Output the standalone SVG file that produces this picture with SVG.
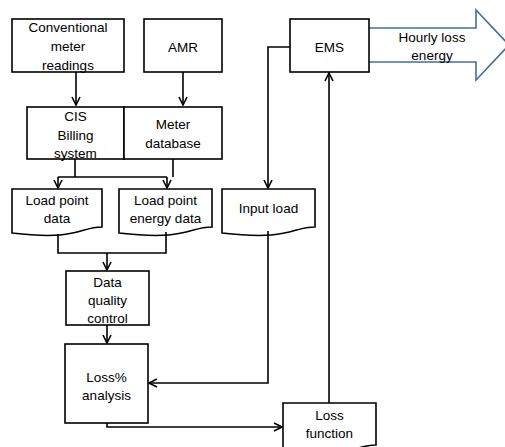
<svg xmlns="http://www.w3.org/2000/svg" width="505" height="447" viewBox="0 0 505 447">
<defs>
<style>
.box{fill:#fff;stroke:#000;stroke-width:1.6}
.doc{fill:#fff;stroke:#000;stroke-width:1.6}
.c{fill:none;stroke:#000;stroke-width:1.6}
.t{font-family:"Liberation Sans",Arial,sans-serif;font-size:13.5px;fill:#000;text-anchor:middle}
.big{fill:#fff;stroke:#41719c;stroke-width:1.6}
</style>
<marker id="ah" viewBox="0 0 10 10" refX="9" refY="5" markerWidth="10" markerHeight="10" markerUnits="userSpaceOnUse" orient="auto">
<path d="M1,1 L9,5 L1,9" fill="none" stroke="#000" stroke-width="1.6"/>
</marker>
</defs>
<rect width="505" height="447" fill="#fff"/>

<g id="arrow-hourly">
<path class="big" d="M369,28 H476 V10 L509,45 L476,80 V62 H369"/>
<text class="t" x="432" y="42">Hourly loss</text>
<text class="t" x="432" y="60">energy</text>
</g>

<g id="conventional">
<rect class="box" x="12" y="19" width="112" height="53"/>
<text class="t" x="68" y="32">Conventional</text>
<text class="t" x="68" y="51">meter</text>
<text class="t" x="68" y="70">readings</text>
</g>
<g id="amr">
<rect class="box" x="144" y="19" width="78" height="53"/>
<text class="t" x="183" y="52">AMR</text>
</g>
<g id="cis">
<rect class="box" x="27" y="107" width="97" height="52"/>
<text class="t" x="75.5" y="121">CIS</text>
<text class="t" x="75.5" y="140">Billing</text>
<text class="t" x="75.5" y="158">system</text>
</g>
<g id="meterdb">
<rect class="box" x="124" y="107" width="98" height="52"/>
<text class="t" x="173" y="129">Meter</text>
<text class="t" x="173" y="148">database</text>
</g>
<g id="loadpoint">
<path class="doc" d="M12,189 H102 V227 C79,227 79,241 12,233 Z"/>
<text class="t" x="57" y="205">Load point</text>
<text class="t" x="57" y="223">data</text>
</g>
<g id="loadpointenergy">
<path class="doc" d="M119,189 H212 V227 C188,227 188,241 119,233 Z"/>
<text class="t" x="165.5" y="205">Load point</text>
<text class="t" x="165.5" y="223">energy data</text>
</g>
<g id="inputload">
<path class="doc" d="M222,189 H315 V227 C291,227 291,241 222,233 Z"/>
<text class="t" x="268.5" y="213">Input load</text>
</g>
<g id="dqc">
<rect class="box" x="66" y="271" width="83" height="54"/>
<text class="t" x="107.5" y="287">Data</text>
<text class="t" x="107.5" y="305">quality</text>
<text class="t" x="107.5" y="323">control</text>
</g>
<g id="lossanalysis">
<rect class="box" x="65" y="344" width="83" height="79"/>
<text class="t" x="106.5" y="382">Loss%</text>
<text class="t" x="106.5" y="400">analysis</text>
</g>
<g id="lossfunction">
<path class="doc" d="M283,403 H376 V445 C352,445 352,460 283,452 Z"/>
<text class="t" x="329.5" y="420">Loss</text>
<text class="t" x="329.5" y="438">function</text>
</g>
<g id="ems">
<rect class="box" x="290" y="19" width="79" height="53"/>
<text class="t" x="329.5" y="52">EMS</text>
</g>

<g id="connectors">
<path class="c" d="M76,72 V105" marker-end="url(#ah)"/>
<path class="c" d="M183,72 V105" marker-end="url(#ah)"/>
<path class="c" d="M75,159 V177 M173,159 V177 M58,177 H167"/>
<path class="c" d="M58,177 V188" marker-end="url(#ah)"/>
<path class="c" d="M167,177 V188" marker-end="url(#ah)"/>
<path class="c" d="M58,234 V253 H166 V232"/>
<path class="c" d="M107,253 V270" marker-end="url(#ah)"/>
<path class="c" d="M107,325 V343" marker-end="url(#ah)"/>
<path class="c" d="M290,47 H268 V188" marker-end="url(#ah)"/>
<path class="c" d="M268,231 V383 H149" marker-end="url(#ah)"/>
<path class="c" d="M107,423 V427 H282" marker-end="url(#ah)"/>
<path class="c" d="M329,403 V73" marker-end="url(#ah)"/>
</g>
</svg>
